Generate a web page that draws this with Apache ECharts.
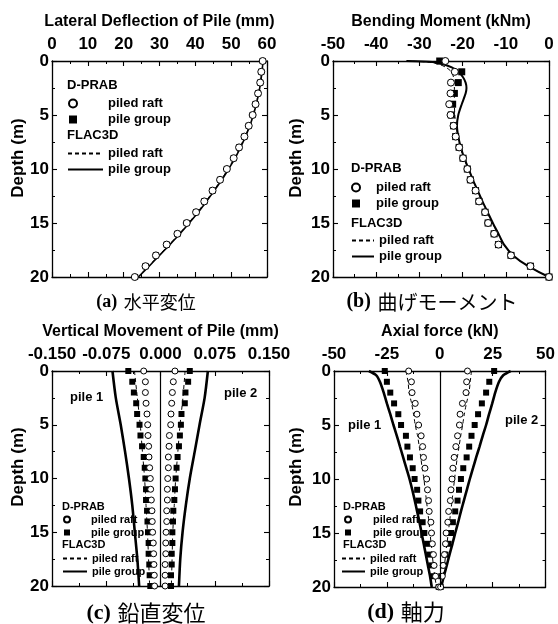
<!DOCTYPE html>
<html>
<head>
<meta charset="utf-8">
<title>Pile response - D-PRAB vs FLAC3D</title>
<script src="https://cdn.jsdelivr.net/npm/echarts@6/dist/echarts.min.js"></script>
<style>
  html, body { margin: 0; padding: 0; background: #fff; }
  #chart { width: 558px; height: 624px; }
</style>
</head>
<body>
<div id="chart"></div>
<script>
// depth of the D-PRAB nodes (m)
const depth = [0, 1, 2, 3, 4, 5, 6, 7, 8, 9, 10, 11, 12, 13, 14, 15, 16, 17, 18, 19, 20];

// (a) lateral deflection (mm)
const latRaft = [58.8, 58.4, 58.1, 57.5, 56.8, 56.0, 54.9, 53.7, 52.2, 50.7, 48.8, 46.9, 44.8, 42.5, 40.2, 37.6, 35.0, 32.0, 29.0, 26.1, 23.1];
const latGroup = [58.8, 58.4, 58.1, 57.5, 56.8, 56.0, 54.9, 53.7, 52.2, 50.7, 48.8, 46.9, 44.8, 42.5, 40.2, 37.6, 35.0, 32.0, 29.0, 26.1, 23.2];
const latFlacRaft = [58.9, 58.5, 58.2, 57.6, 56.9, 56.1, 55.1, 53.9, 52.4, 50.9, 49.1, 47.2, 45.1, 42.9, 40.6, 38.1, 35.5, 32.7, 29.8, 26.9, 24.0];
const latFlacGroup = [58.9, 58.6, 58.2, 57.7, 57.0, 56.2, 55.2, 54.0, 52.6, 51.1, 49.3, 47.4, 45.3, 43.1, 40.8, 38.3, 35.7, 32.9, 30.0, 27.1, 24.1];

// (b) bending moment (kNm)
const bmRaft = [-24.0, -21.8, -22.7, -22.8, -23.1, -22.8, -22.1, -21.6, -20.8, -19.9, -18.9, -18.2, -17.0, -16.2, -14.8, -14.1, -12.7, -11.7, -8.8, -4.3, 0];
const bmGroup = [-25.3, -20.2, -21.0, -21.9, -22.3, -22.6, -22.1, -21.6, -20.8, -19.9, -18.9, -18.2, -17.0, -16.2, -14.8, -14.1, -12.7, -11.7, -8.8, -4.3, 0];
const bmFlacDepth = [0, 0.1, 0.3, 0.6, 1, 1.5, 2, 2.5, 3, 4, 5, 6, 7, 8, 9, 10, 11, 12, 13, 14, 15, 16, 17, 18, 19, 20];
const bmFlacGroup = [-33.0, -27.0, -24.5, -22.5, -21.0, -19.9, -19.3, -19.1, -19.3, -20.2, -21.0, -21.3, -21.0, -20.4, -19.6, -18.6, -17.6, -16.5, -15.4, -14.2, -13.0, -11.7, -10.4, -8.3, -4.8, 0];
const bmFlacRaft = [-33.0, -28.0, -25.5, -23.8, -22.6, -22.1, -22.0, -21.9, -21.9, -21.9, -21.8, -21.5, -21.1, -20.5, -19.7, -18.7, -17.7, -16.6, -15.5, -14.3, -13.1, -11.8, -10.5, -8.4, -4.9, 0];

// (c) vertical movement (mm), pile 1 and pile 2
const vmRaft1 = [-0.0232, -0.0209, -0.0209, -0.0200, -0.0187, -0.0177, -0.0173, -0.0164, -0.0159, -0.0150, -0.0141, -0.0136, -0.0127, -0.0118, -0.0114, -0.0109, -0.0100, -0.0095, -0.0091, -0.0086, -0.0082];
const vmGroup1 = [-0.0445, -0.0390, -0.0368, -0.0336, -0.0323, -0.0290, -0.0277, -0.0255, -0.0232, -0.0218, -0.0209, -0.0200, -0.0200, -0.0186, -0.0180, -0.0173, -0.0164, -0.0164, -0.0155, -0.0150, -0.0141];
const vmRaft2 = [0.0200, 0.0177, 0.0164, 0.0155, 0.0145, 0.0141, 0.0123, 0.0118, 0.0109, 0.0109, 0.0100, 0.0095, 0.0095, 0.0086, 0.0086, 0.0077, 0.0073, 0.0073, 0.0064, 0.0064, 0.0064];
const vmGroup2 = [0.0405, 0.0382, 0.0345, 0.0336, 0.0290, 0.0282, 0.0268, 0.0255, 0.0236, 0.0222, 0.0209, 0.0200, 0.0191, 0.0177, 0.0173, 0.0164, 0.0164, 0.0155, 0.0155, 0.0145, 0.0145];
const vmFlacDepth = [0, 2.5, 5, 7.5, 10, 12.5, 15, 17.5, 20];
const vmFlacGroup1 = [-0.0664, -0.0618, -0.0550, -0.0490, -0.0436, -0.0390, -0.0355, -0.0320, -0.0295];
const vmFlacGroup2 = [0.0655, 0.0610, 0.0540, 0.0473, 0.0405, 0.0350, 0.0305, 0.0273, 0.0255];
const vmFlacRaft1 = [-0.0360, -0.0320, -0.0280, -0.0250, -0.0220, -0.0200, -0.0180, -0.0165, -0.0150];
const vmFlacRaft2 = [0.0340, 0.0310, 0.0270, 0.0240, 0.0210, 0.0190, 0.0170, 0.0160, 0.0150];

// (d) axial force (kN), pile 1 and pile 2
const afRaft1 = [-14.7, -13.4, -13.1, -11.6, -10.8, -10.0, -8.8, -8.1, -7.7, -7.0, -6.2, -5.8, -5.3, -5.0, -4.2, -3.9, -3.5, -3.0, -2.7, -2.0, -0.5];
const afGroup1 = [-26.0, -25.0, -23.4, -21.6, -19.6, -18.3, -16.0, -15.3, -14.1, -12.8, -11.9, -10.7, -10.1, -9.3, -8.1, -7.3, -6.0, -5.0, -4.0, -3.0, -0.5];
const afRaft2 = [13.1, 12.7, 12.4, 10.7, 9.6, 9.3, 8.4, 7.6, 6.8, 6.2, 5.8, 5.3, 5.0, 4.2, 3.8, 3.0, 2.7, 2.2, 1.6, 1.2, 0.4];
const afGroup2 = [25.7, 23.4, 21.9, 19.9, 18.1, 16.5, 15.0, 13.9, 12.7, 11.1, 10.0, 9.1, 8.4, 7.3, 6.2, 5.3, 4.2, 2.7, 1.6, 0.7, 0.4];
const afFlacDepth = [0, 0.4, 1, 2, 3, 4, 5, 6, 7, 8, 9, 10, 11, 12, 13, 14, 15, 16, 17, 18, 19, 20];
const afFlacGroup1 = [-33.5, -30.0, -28.3, -26.5, -25.0, -23.4, -21.9, -20.3, -18.8, -17.3, -15.8, -14.3, -13.0, -11.8, -10.7, -9.6, -8.6, -7.6, -6.6, -5.6, -4.6, -3.8];
const afFlacGroup2 = [33.5, 30.0, 28.0, 26.2, 24.8, 23.3, 21.9, 20.3, 18.8, 17.2, 15.7, 14.2, 12.8, 11.4, 10.0, 8.7, 7.3, 6.0, 4.6, 3.3, 1.9, 0.7];
const afFlacRaft1 = [-16.0, -15.0, -14.5, -13.3, -12.4, -11.6, -10.5, -9.7, -9.0, -8.3, -7.5, -6.9, -6.3, -5.7, -5.1, -4.6, -4.1, -3.6, -3.0, -2.4, -1.5];
const afFlacRaft2 = [15.0, 14.4, 13.8, 12.6, 11.6, 10.8, 9.9, 9.1, 8.3, 7.6, 7.0, 6.4, 5.8, 5.2, 4.6, 4.0, 3.4, 2.8, 2.2, 1.6, 1.0];

const xTitles = ['Lateral Deflection of Pile (mm)', 'Bending Moment (kNm)', 'Vertical Movement of Pile (mm)', 'Axial force (kN)'];
const captions = [['(a)', '水平変位'], ['(b)', '曲げモーメント'], ['(c)', '鉛直変位'], ['(d)', '軸力']];

const FONT = '"Liberation Sans", Arial, sans-serif';
const RAFT_PT = 'D-PRAB piled raft';
const GROUP_PT = 'D-PRAB pile group';
const RAFT_LN = 'FLAC3D piled raft';
const GROUP_LN = 'FLAC3D pile group';

const chart = echarts.init(document.getElementById('chart'), null, { renderer: 'canvas' });

const pts = (xs, ys) => xs.map((x, k) => [x, ys[k]]);

const grids = [
  { left: 52, top: 61, width: 215, height: 216 },
  { left: 333, top: 61, width: 216, height: 216 },
  { left: 52, top: 371, width: 217, height: 215 },
  { left: 334, top: 371, width: 216, height: 216 }
];

const black = { color: '#000', width: 1.3 };

function xAxesFor(i, min, max, interval, fmt) {
  const base = {
    type: 'value', gridIndex: i, min: min, max: max, interval: interval,
    axisLine: { show: true, onZero: false, lineStyle: black },
    axisTick: { show: true, inside: true, length: 5, lineStyle: { color: '#000', width: 1.1 } },
    minorTick: { show: true, splitNumber: 2, length: 3, lineStyle: { color: '#000', width: 1 } },
    splitLine: { show: false }
  };
  return [
    Object.assign({}, base, {
      position: 'top',
      name: xTitles[i], nameLocation: 'middle', nameGap: 31,
      nameTextStyle: { fontSize: 16, fontWeight: 'bold', color: '#000', fontFamily: FONT },
      axisLabel: { fontSize: 17, fontWeight: 'bold', color: '#000', margin: 8, fontFamily: FONT, formatter: fmt }
    }),
    Object.assign({}, base, { position: 'bottom', axisLabel: { show: false } })
  ];
}

function yAxesFor(i) {
  const base = {
    type: 'value', gridIndex: i, inverse: true, min: 0, max: 20, interval: 5,
    axisLine: { show: true, onZero: false, lineStyle: black },
    axisTick: { show: true, inside: true, length: 5, lineStyle: { color: '#000', width: 1.1 } },
    minorTick: { show: true, splitNumber: 2, length: 3, lineStyle: { color: '#000', width: 1 } },
    splitLine: { show: false }
  };
  return [
    Object.assign({}, base, {
      position: 'left',
      axisLabel: { fontSize: 17, fontWeight: 'bold', color: '#000', margin: 3, fontFamily: FONT }
    }),
    Object.assign({}, base, { position: 'right', axisLabel: { show: false } })
  ];
}

const fixed3 = v => (Math.abs(v) < 1e-9 ? '0.000' : v.toFixed(3));

const xAxis = [].concat(
  xAxesFor(0, 0, 60, 10),
  xAxesFor(1, -50, 0, 10),
  xAxesFor(2, -0.15, 0.15, 0.075, fixed3),
  xAxesFor(3, -50, 50, 25)
);
const yAxis = [].concat(yAxesFor(0), yAxesFor(1), yAxesFor(2), yAxesFor(3));

function circles(panel, xs, size) {
  return {
    name: RAFT_PT, type: 'scatter', xAxisIndex: panel * 2, yAxisIndex: panel * 2,
    data: pts(xs, depth), symbol: 'circle', symbolSize: size, z: 4,
    itemStyle: { color: '#fff', borderColor: '#000', borderWidth: 1, opacity: 1 }
  };
}
function squares(panel, xs, size) {
  return {
    name: GROUP_PT, type: 'scatter', xAxisIndex: panel * 2, yAxisIndex: panel * 2,
    data: pts(xs, depth), symbol: 'rect', symbolSize: size, z: 3,
    itemStyle: { color: '#000', opacity: 1 }
  };
}
function dashed(panel, xs, ys, extra) {
  return Object.assign({
    name: RAFT_LN, type: 'line', xAxisIndex: panel * 2, yAxisIndex: panel * 2,
    data: pts(xs, ys), symbol: 'none', smooth: 0.25, z: 2, color: '#000',
    lineStyle: { color: '#000', width: 1, type: [4, 3] }
  }, extra || {});
}
function solid(panel, xs, ys, width) {
  return {
    name: GROUP_LN, type: 'line', xAxisIndex: panel * 2, yAxisIndex: panel * 2,
    data: pts(xs, ys), symbol: 'none', smooth: 0.25, z: 2, color: '#000',
    lineStyle: { color: '#000', width: width, type: 'solid' }
  };
}

const centreLine = {
  markLine: {
    symbol: 'none', silent: true, label: { show: false },
    lineStyle: { color: '#000', type: 'solid', width: 1.2 },
    data: [{ xAxis: 0 }]
  }
};

const series = [
  // (a)
  solid(0, latFlacGroup, depth, 1.6),
  dashed(0, latFlacRaft, depth),
  squares(0, latGroup, 6),
  circles(0, latRaft, 7),
  // (b)
  solid(1, bmFlacGroup, bmFlacDepth, 2),
  dashed(1, bmFlacRaft, bmFlacDepth),
  squares(1, bmGroup, 7),
  circles(1, bmRaft, 7),
  // (c)
  solid(2, vmFlacGroup1, vmFlacDepth, 2.6),
  solid(2, vmFlacGroup2, vmFlacDepth, 2.6),
  dashed(2, vmFlacRaft1, vmFlacDepth, centreLine),
  dashed(2, vmFlacRaft2, vmFlacDepth),
  squares(2, vmGroup1, 6),
  squares(2, vmGroup2, 6),
  circles(2, vmRaft1, 6),
  circles(2, vmRaft2, 6),
  // (d)
  solid(3, afFlacGroup1, afFlacDepth, 2.6),
  solid(3, afFlacGroup2, afFlacDepth, 2.6),
  dashed(3, afFlacRaft1, depth, centreLine),
  dashed(3, afFlacRaft2, depth),
  squares(3, afGroup1, 6),
  squares(3, afGroup2, 6),
  circles(3, afRaft1, 6),
  circles(3, afRaft2, 6)
];

// legend blocks per panel:
// [marker left, top, marker size, gap to text, line left, top, line width, font size, row gap]
const legendSpots = [
  [68, 97, 8, 26, 67, 147, 35, 13, 3],
  [351, 181, 8, 11, 351, 234, 22, 13, 3],
  [63, 514, 6, 16, 62, 553, 24, 11, 2],
  [344, 514, 6, 17, 341, 553, 23, 11, 2]
];
const strip = n => n.replace(/^\S+ /, '');
const legend = [];
legendSpots.forEach(s => {
  const textStyle = { fontSize: s[7], fontWeight: 'bold', color: '#000', fontFamily: FONT };
  legend.push({
    orient: 'vertical', left: s[0], top: s[1], itemWidth: s[2], itemHeight: s[2], itemGap: s[8],
    padding: 0, selectedMode: false,
    formatter: n => '{g| }' + strip(n),
    textStyle: Object.assign({ rich: { g: { width: s[3], fontSize: s[7] } } }, textStyle),
    data: [{ name: RAFT_PT, icon: 'circle' }, { name: GROUP_PT, icon: 'rect' }]
  });
  legend.push({
    orient: 'vertical', left: s[4], top: s[5], itemWidth: s[6], itemHeight: 8, itemGap: s[8],
    padding: 0, selectedMode: false, formatter: strip, textStyle: textStyle,
    itemStyle: { opacity: 0 },
    data: [RAFT_LN, GROUP_LN]
  });
});

const boldFont = size => 'bold ' + size + 'px ' + FONT;
const label = (x, y, text, size) => ({
  type: 'text', x: x, y: y, silent: true,
  style: { text: text, font: boldFont(size), fill: '#000', align: 'left', verticalAlign: 'middle' }
});

const headers = [
  [67, 85, 'D-PRAB', 13], [67, 135, 'FLAC3D', 13],
  [351, 168, 'D-PRAB', 13], [351, 223, 'FLAC3D', 13],
  [62, 507, 'D-PRAB', 11], [62, 545, 'FLAC3D', 11],
  [343, 507, 'D-PRAB', 11], [343, 545, 'FLAC3D', 11],
  [70, 397, 'pile 1', 13], [224, 393, 'pile 2', 13],
  [348, 425, 'pile 1', 13], [505, 420, 'pile 2', 13]
];
const depthNames = [[18, 158], [296, 158], [18, 467], [296, 467]];
const captionSpots = [[146, 302, 18], [432, 302, 20], [146, 613, 22], [406, 612, 22]];

const graphic = [];
headers.forEach(h => graphic.push(label(h[0], h[1], h[2], h[3])));
depthNames.forEach(d => graphic.push({
  type: 'text', x: d[0], y: d[1], rotation: Math.PI / 2, silent: true,
  style: { text: 'Depth (m)', font: boldFont(17), fill: '#000', align: 'center', verticalAlign: 'middle' }
}));
captionSpots.forEach((c, i) => graphic.push({
  type: 'text', x: c[0], y: c[1], silent: true,
  style: {
    text: '{p|' + captions[i][0] + '}  {k|' + captions[i][1] + '}',
    align: 'center', verticalAlign: 'middle', fill: '#000',
    rich: {
      p: { fontSize: c[2], fontWeight: 'bold', fontFamily: '"Liberation Serif", serif', fill: '#000' },
      k: { fontSize: c[2], fontFamily: '"Noto Sans CJK JP", sans-serif', fill: '#000' }
    }
  }
}));

chart.setOption({
  backgroundColor: '#fff',
  animation: false,
  textStyle: { fontFamily: FONT, color: '#000' },
  grid: grids,
  xAxis: xAxis,
  yAxis: yAxis,
  legend: legend,
  graphic: graphic,
  series: series
});
</script>
</body>
</html>
